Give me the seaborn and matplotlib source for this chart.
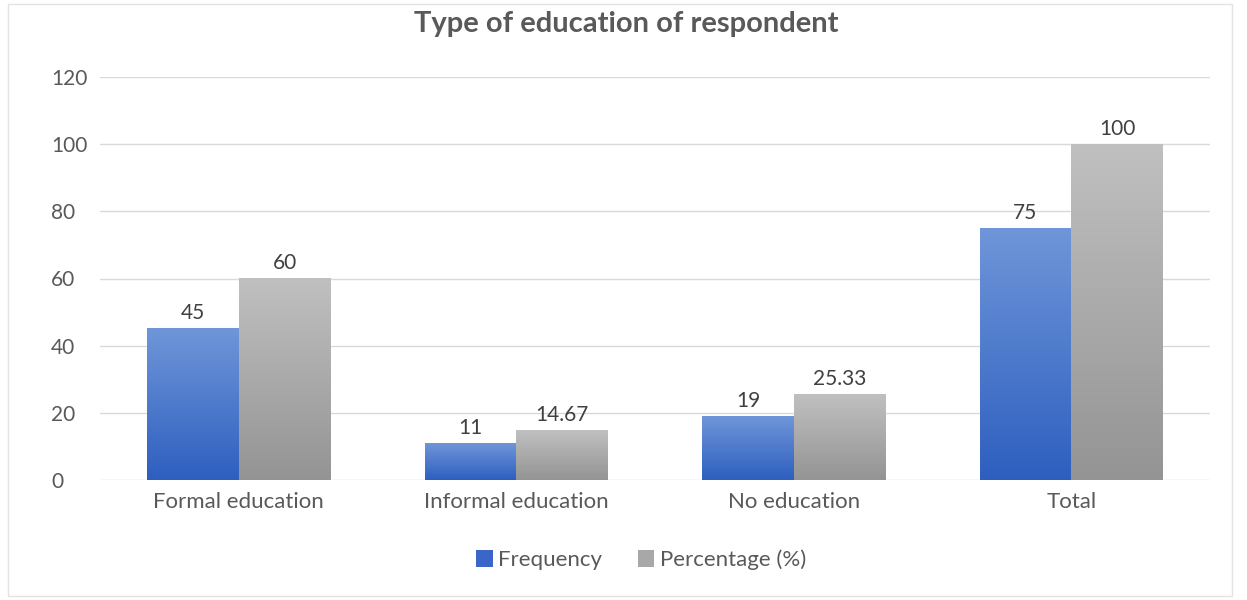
import matplotlib
matplotlib.use("Agg")
import matplotlib.pyplot as plt
import matplotlib.colors as mcolors
from matplotlib.patches import Patch, Rectangle
import numpy as np
import pandas as pd
import seaborn as sns

categories = ["Formal education", "Informal education", "No education", "Total"]
frequency = [45, 11, 19, 75]
percentage = [60, 14.67, 25.33, 100]
series_names = ["Frequency", "Percentage (%)"]
y_ticks = [0, 20, 40, 60, 80, 100, 120]

df = pd.DataFrame({
    "category": categories * 2,
    "value": frequency + percentage,
    "series": [series_names[0]] * len(categories) + [series_names[1]] * len(categories),
})

# top / bottom colours of the vertical gradient for each series
grad = {
    series_names[0]: ("#6f96d9", "#2e5fbf"),
    series_names[1]: ("#c0c0c0", "#949494"),
}
legend_colors = ["#3a66c8", "#a8a8a8"]

sns.set_theme(style="white")
plt.rcParams["font.family"] = ["Lato", "DejaVu Sans"]

fig = plt.figure(figsize=(12.47, 6.0), dpi=100)
ax = fig.add_axes([100 / 1247, 1 - 480 / 600, 1110 / 1247, (480 - 77) / 600])

sns.barplot(data=df, x="category", y="value", hue="series", order=categories,
            hue_order=series_names, palette=[grad[s][1] for s in series_names],
            width=0.66, gap=0, dodge=True, ax=ax, legend=False, saturation=1)

# replace flat fills by vertical gradients
n = len(categories)
for i, patch in enumerate(ax.patches[: 2 * n]):
    s = series_names[i // n]
    top, bot = grad[s]
    cmap = mcolors.LinearSegmentedColormap.from_list("g", [bot, top])
    x0, y0 = patch.get_x(), patch.get_y()
    w, h = patch.get_width(), patch.get_height()
    g = np.linspace(0, 1, 256).reshape(-1, 1)
    ax.imshow(g, cmap=cmap, origin="lower", aspect="auto",
              extent=[x0, x0 + w, y0, y0 + h], zorder=2)
    patch.set_facecolor("none")
    patch.set_edgecolor("none")

# value labels
vals = [frequency, percentage]
for j, container in enumerate(ax.containers):
    labels = [f"{v:g}" for v in vals[j]]
    ax.bar_label(container, labels=labels, padding=4, fontsize=15, color="#404040")

ax.set_xlim(-0.5, n - 0.5)
ax.set_ylim(0, 120)
ax.set_yticks(y_ticks)
ax.set_yticklabels([str(t) for t in y_ticks])
ax.yaxis.grid(True, color="#d9d9d9", linewidth=1)
ax.set_axisbelow(True)
for sp in ax.spines.values():
    sp.set_visible(False)
ax.set_xlabel("")
ax.set_ylabel("")
ax.tick_params(axis="y", length=0, pad=35.3, labelsize=15, labelcolor="#595959")
ax.tick_params(axis="x", length=0, pad=9, labelsize=16, labelcolor="#595959")
for lbl in ax.get_yticklabels():
    lbl.set_horizontalalignment("left")

fig.suptitle("Type of education of respondent", x=626 / 1247, y=1 - 11 / 600, va="top",
             fontsize=21, fontweight="bold", color="#595959")

handles = [Patch(facecolor=c, edgecolor="none") for c in legend_colors]
fig.legend(handles, series_names, loc="center", bbox_to_anchor=(641 / 1247, 1 - 560 / 600),
           ncol=2, frameon=False, fontsize=16, labelcolor="#595959",
           handlelength=0.75, handleheight=0.75, handletextpad=0.25, columnspacing=1.6)

fig.patches.append(Rectangle((8 / 1247, 4 / 600), 1224 / 1247, 592 / 600, transform=fig.transFigure,
                             fill=False, edgecolor="#e3e3e3", linewidth=1))

fig.savefig("out.png", dpi=100, facecolor="white")
